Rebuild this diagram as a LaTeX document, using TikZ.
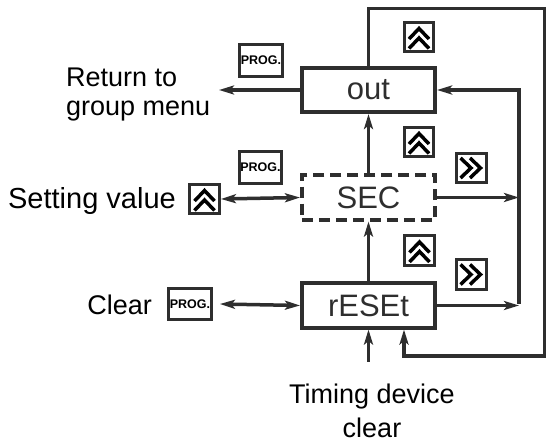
\documentclass[tikz,border=0pt]{standalone}
\usepackage{fontspec}
\setmainfont{Liberation Sans}
\usetikzlibrary{arrows.meta}
\definecolor{dk}{HTML}{2E2E2E}
\begin{document}
\begin{tikzpicture}[x=1pt,y=-1pt,
  ln/.style={draw=dk,line width=3.5pt},
  arr/.style={ln,-{Stealth[length=15pt,width=9pt,inset=3.5pt]}},
  darr/.style={ln,{Stealth[length=15pt,width=9pt,inset=3.5pt]}-{Stealth[length=15pt,width=9pt,inset=3.5pt]}},
  mainbox/.style={draw=dk,line width=3.6pt,minimum width=133.5pt,minimum height=44.5pt,inner sep=0pt,text=dk,font=\fontsize{31}{31}\selectfont},
  dashbox/.style={mainbox,dash pattern=on 11pt off 6pt},
  keybox/.style={draw=dk,line width=3.4pt,minimum width=29.5pt,minimum height=29.5pt,inner sep=0pt},
  progbox/.style={draw=dk,line width=3.4pt,minimum width=42.5pt,minimum height=31.5pt,inner sep=0pt,text=black,font=\bfseries\fontsize{12.5}{12.5}\selectfont},
  lbl/.style={inner sep=0pt,text=black,font=\fontsize{27}{28.4}\selectfont},
  chev/.style={draw=black,line width=3.5pt}
]
\useasboundingbox (0,0) rectangle (546,443);

% main boxes
\node[mainbox] (out) at (368.5,90) {out};
\node[dashbox] (sec) at (368.5,197.5) {SEC};
\node[mainbox] (rst) at (368.5,305.5) {rESEt};

% key icons
\newcommand\upkey[3]{%
  \node[keybox] (#1) at (#2,#3) {};
  \draw[chev] ([shift={(-10,2)}]#1.center) -- ([shift={(0,-8.5)}]#1.center) -- ([shift={(10,2)}]#1.center);
  \draw[chev] ([shift={(-10,11.5)}]#1.center) -- ([shift={(0,1)}]#1.center) -- ([shift={(10,11.5)}]#1.center);
}
\newcommand\rightkey[3]{%
  \node[keybox] (#1) at (#2,#3) {};
  \draw[chev] ([shift={(-11,-10)}]#1.center) -- ([shift={(-0.5,0)}]#1.center) -- ([shift={(-11,10)}]#1.center);
  \draw[chev] ([shift={(-1.5,-10)}]#1.center) -- ([shift={(9,0)}]#1.center) -- ([shift={(-1.5,10)}]#1.center);
}
\upkey{ua}{419}{37}
\upkey{ub}{419}{142}
\upkey{uc}{419.5}{250.5}
\upkey{ud}{204.5}{199}
\rightkey{ra}{471.5}{168}
\rightkey{rb}{471.5}{274.5}

\node[progbox] (pa) at (261,60.5) {PROG.};
\node[progbox] (pb) at (260.5,167.5) {PROG.};
\node[progbox] (pc) at (190,304) {PROG.};

% labels
\node[lbl,anchor=north west,align=left] (ret) at (66,68) {Return to\\group menu};
\node[lbl,anchor=base east,font=\fontsize{29}{30}\selectfont] (setv) at (176,209) {Setting value};
\node[lbl,anchor=base east] (clr) at (152,315) {Clear};
\node[lbl,anchor=north,align=center,font=\fontsize{27}{34}\selectfont] (tdc) at (372,384) {Timing device\\clear};

% connectors
\coordinate (retend) at (219,90);
\coordinate (tin) at (368.5,362);
\coordinate (rx) at (519,0);
\coordinate (tr) at (544.5,8.5);
\coordinate (br) at (544.5,356);
\draw[arr] (out.west) -- (retend);
\draw[arr] (sec.north) -- (out.south);
\draw[arr] (rst.north) -- (sec.south);
\draw[arr] (tin) -- (rst.south);
\draw[darr] (ud.east) -- (sec.west);
\draw[darr] (pc.east) ++(7,0) coordinate (pcx) (pcx) -- (rst.west);
\draw[arr] (sec.east) -- (sec.east -| rx);
\draw[arr] (rst.east) -- (rst.east -| rx);
\draw[arr] ([yshift=1.7pt]rst.east -| rx) |- (out.east);
\draw[arr] (out.north) |- (tr) -- (br) -| ([xshift=35.5pt]rst.south);
\end{tikzpicture}
\end{document}
